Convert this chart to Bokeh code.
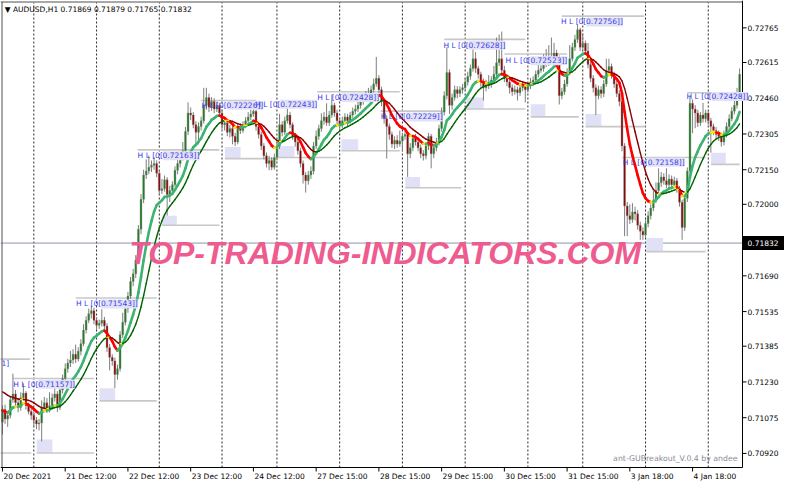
import numpy as np
from bokeh.plotting import figure
from bokeh.models import Range1d, Label, ColumnDataSource
from bokeh.core.properties import value
from bokeh.embed import file_html
from bokeh.resources import INLINE

# ---------------- data (prices in points, 1 point = 0.00001) ----------------
open_first = 71055
close_pts = [
    71111, 71069, 71085, 71153, 71178, 71140, 71119, 71161, 71182, 71127, 71102, 71085,
    71064, 71048, 71052, 71119, 71140, 71111, 71127, 71161, 71178, 71119, 71195, 71245,
    71287, 71312, 71325, 71350, 71329, 71363, 71396, 71455, 71497, 71526, 71539, 71497,
    71476, 71484, 71497, 71472, 71379, 71337, 71321, 71262, 71287, 71434, 71489, 71547,
    71602, 71665, 71699, 71757, 71892, 72022, 72127, 72144, 72161, 72169, 72177, 72135,
    72060, 72068, 72106, 72043, 72060, 72085, 72148, 72177, 72203, 72232, 72316, 72396,
    72387, 72345, 72312, 72337, 72362, 72429, 72463, 72421, 72446, 72413, 72429, 72396,
    72345, 72354, 72312, 72329, 72295, 72270, 72337, 72320, 72345, 72362, 72379, 72392,
    72404, 72337, 72303, 72253, 72211, 72177, 72190, 72161, 72203, 72253, 72345, 72312,
    72362, 72387, 72345, 72295, 72270, 72232, 72177, 72127, 72102, 72127, 72144, 72253,
    72295, 72329, 72362, 72379, 72354, 72387, 72429, 72396, 72362, 72345, 72362, 72379,
    72362, 72387, 72404, 72413, 72429, 72446, 72463, 72471, 72480, 72497, 72522, 72547,
    72497, 72446, 72371, 72337, 72303, 72261, 72278, 72261, 72274, 72295, 72303, 72219,
    72245, 72287, 72270, 72245, 72219, 72211, 72253, 72295, 72219, 72245, 72270, 72329,
    72400, 72471, 72572, 72429, 72463, 72497, 72480, 72497, 72505, 72530, 72555, 72589,
    72631, 72589, 72564, 72530, 72505, 72513, 72522, 72539, 72564, 72614, 72631, 72581,
    72547, 72530, 72505, 72488, 72497, 72484, 72505, 72513, 72497, 72513, 72530, 72539,
    72564, 72581, 72589, 72606, 72623, 72614, 72639, 72656, 72631, 72471, 72488, 72522,
    72572, 72631, 72681, 72715, 72757, 72681, 72698, 72665, 72606, 72547, 72505, 72471,
    72497, 72480, 72522, 72581, 72597, 72564, 72522, 72480, 72446, 72253, 71993, 71951,
    71934, 71967, 71959, 71909, 71883, 71867, 71917, 71951, 71984, 72018, 72060, 72093,
    72119, 72102, 72085, 72110, 72085, 72102, 72068, 72009, 71900, 72026, 72144, 72438,
    72413, 72396, 72354, 72387, 72371, 72396, 72362, 72337, 72320, 72303, 72295, 72270,
    72303, 72337, 72371, 72404, 72429, 72463, 72564,
]
high_pts = [
    71128, 71132, 71102, 71170, 71266, 71195, 71160, 71185, 71224, 71190, 71140, 71118,
    71100, 71078, 71070, 71150, 71165, 71160, 71185, 71180, 71205, 71190, 71210, 71262,
    71310, 71330, 71365, 71372, 71392, 71380, 71415, 71480, 71515, 71548, 71560, 71552,
    71510, 71500, 71545, 71512, 71485, 71395, 71350, 71335, 71305, 71450, 71530, 71565,
    71620, 71685, 71720, 71780, 71910, 72045, 72150, 72195, 72211, 72190, 72205, 72190,
    72148, 72110, 72125, 72118, 72080, 72100, 72165, 72195, 72220, 72270, 72335, 72442,
    72420, 72400, 72360, 72355, 72380, 72505, 72505, 72480, 72465, 72460, 72445, 72440,
    72410, 72375, 72370, 72345, 72340, 72310, 72350, 72352, 72360, 72378, 72400, 72410,
    72421, 72412, 72350, 72315, 72265, 72225, 72210, 72205, 72220, 72270, 72392, 72360,
    72380, 72421, 72400, 72355, 72310, 72285, 72245, 72190, 72140, 72145, 72165, 72270,
    72320, 72345, 72395, 72400, 72438, 72405, 72476, 72440, 72410, 72375, 72380, 72395,
    72392, 72400, 72420, 72432, 72445, 72460, 72480, 72490, 72505, 72515, 72545, 72639,
    72560, 72510, 72455, 72385, 72350, 72315, 72295, 72300, 72320, 72310, 72320, 72315,
    72265, 72300, 72305, 72285, 72260, 72235, 72270, 72310, 72305, 72262, 72288, 72345,
    72420, 72490, 72681, 72585, 72480, 72515, 72512, 72512, 72522, 72548, 72575, 72606,
    72673, 72660, 72600, 72575, 72545, 72540, 72560, 72555, 72600, 72723, 72736, 72749,
    72600, 72560, 72545, 72520, 72515, 72510, 72520, 72530, 72525, 72530, 72548, 72555,
    72580, 72631, 72610, 72650, 72673, 72690, 72723, 72700, 72670, 72645, 72505, 72540,
    72590, 72690, 72700, 72735, 72778, 72765, 72740, 72710, 72700, 72620, 72560, 72520,
    72515, 72512, 72540, 72631, 72631, 72610, 72575, 72535, 72495, 72460, 72265, 72010,
    72000, 72005, 71990, 71975, 71925, 71900, 71935, 71970, 72000, 72060, 72095, 72156,
    72140, 72135, 72156, 72130, 72125, 72120, 72115, 72080, 72020, 72040, 72160, 72471,
    72455, 72430, 72410, 72400, 72440, 72410, 72405, 72375, 72350, 72335, 72320, 72310,
    72320, 72355, 72390, 72421, 72450, 72505, 72589,
]
low_pts = [
    71002, 71048, 71035, 71072, 71140, 71120, 71098, 71105, 71150, 71110, 71090, 71066,
    71040, 71025, 71020, 70972, 71100, 71095, 71098, 71115, 71145, 71100, 71108, 71180,
    71230, 71270, 71295, 71308, 71312, 71318, 71345, 71385, 71440, 71485, 71505, 71480,
    71455, 71460, 71470, 71455, 71360, 71280, 71300, 71203, 71240, 71275, 71420, 71475,
    71530, 71590, 71645, 71680, 71740, 71870, 72005, 72110, 72130, 72140, 72150, 72118,
    72040, 72045, 72055, 71951, 72010, 72040, 72075, 72130, 72160, 72190, 72220, 72300,
    72365, 72330, 72253, 72260, 72320, 72350, 72410, 72400, 72405, 72395, 72400, 72380,
    72325, 72320, 72295, 72290, 72260, 72253, 72260, 72305, 72310, 72330, 72350, 72365,
    72380, 72320, 72285, 72235, 72195, 72160, 72148, 72148, 72150, 72190, 72240, 72295,
    72300, 72350, 72330, 72280, 72250, 72215, 72160, 72090, 72051, 72085, 72110, 72130,
    72240, 72280, 72315, 72345, 72340, 72340, 72375, 72380, 72345, 72320, 72330, 72350,
    72340, 72350, 72375, 72390, 72400, 72415, 72432, 72450, 72460, 72470, 72485, 72510,
    72480, 72425, 72350, 72198, 72280, 72245, 72240, 72245, 72250, 72230, 72280, 72119,
    72200, 72230, 72255, 72230, 72200, 72190, 72195, 72235, 72156, 72200, 72230, 72255,
    72315, 72385, 72455, 72392, 72410, 72450, 72460, 72465, 72480, 72495, 72515, 72540,
    72575, 72570, 72545, 72510, 72450, 72490, 72500, 72505, 72525, 72550, 72600, 72565,
    72530, 72512, 72480, 72470, 72475, 72450, 72470, 72490, 72442, 72485, 72500, 72515,
    72525, 72550, 72570, 72575, 72595, 72600, 72605, 72625, 72610, 72433, 72455, 72475,
    72510, 72560, 72620, 72665, 72700, 72665, 72670, 72648, 72590, 72530, 72485, 72387,
    72455, 72460, 72465, 72510, 72570, 72545, 72505, 72465, 72425, 72230, 71862, 71862,
    71915, 71920, 71930, 71890, 71846, 71846, 71855, 71900, 71935, 71970, 72005, 72045,
    72075, 72085, 72070, 72070, 72068, 72070, 72050, 71990, 71846, 71885, 72010, 72130,
    72308, 72330, 72335, 72340, 72355, 72355, 72345, 72224, 72300, 72285, 72275, 72250,
    72255, 72290, 72325, 72360, 72390, 72415, 72450,
]
fast_seed = 71106   # fast MA value at the first bar
slow_seed = 71190   # slow MA value at the first bar

date_ticks = [0, 24, 48, 72, 96, 120, 144, 168, 192, 216, 240, 264]
date_labels = ["20 Dec 2021", "21 Dec 12:00", "22 Dec 12:00", "23 Dec 12:00", "24 Dec 12:00",
               "27 Dec 15:00", "28 Dec 15:00", "29 Dec 15:00", "30 Dec 15:00", "31 Dec 15:00",
               "3 Jan 18:00", "4 Jan 18:00"]
day_starts = [12, 36, 60, 84, 105, 129, 153, 177, 201, 222, 246, 270]
price_ticks = [0.72765, 0.72615, 0.72460, 0.72305, 0.72150, 0.72000, 0.71845,
               0.71690, 0.71535, 0.71385, 0.71230, 0.71075, 0.70920]
last_price = 0.71832
header_text = "\u25bc AUDUSD,H1  0.71869 0.71879 0.71765 0.71832"
footer_text = "ant-GUBreakout_V.0.4 by andee"
watermark = "TOP-TRADING-INDICATORS.COM"

# breakout boxes (bar index range, price range in points)
box_i0 = [13.1, 37.1, 61.1, 85.1, 105.4, 129.7, 154.1, 177.4, 202.1, 223.1, 246.3, 271.1]
box_i1 = [19.1, 43.1, 66.7, 91.1, 111.7, 136.1, 159.7, 184.1, 207.7, 229.1, 252.7, 276.7]
box_top = [70980, 71203, 71951, 72249, 72253, 72282, 72119, 72463, 72434, 72392, 71854, 72224]
box_bot = [70922, 71148, 71909, 72198, 72203, 72232, 72072, 72413, 72379, 72337, 71795, 72173]

# range lines
line_i0 = [-1, 4, 28, 51.7, 76, 120.4, 144.7, 169, 192, 214, 237, 262,
           -1, 13.1, 37.1, 61.1, 85.1, 105.4, 129.7, 154.1, 177.4, 202.1, 223.1, 246.3, 271.1]
line_i1 = [10.5, 35, 59, 83, 97, 152, 169, 200, 216, 245.5, 269, 282,
           11, 35, 59, 83, 105.4, 128, 152, 175.5, 200, 220.5, 246, 269, 282]
line_p = [71329, 71245, 71594, 72236, 72450, 72488, 72404, 72715, 72652, 72816, 72203, 72484,
          70922, 70922, 71148, 71909, 72198, 72203, 72232, 72072, 72413, 72379, 72337, 71795, 72173]

# "H L [0[...]]" labels
hl_i = [4.1, 28.1, 51.7, 76.1, 96.7, 120.4, 144.7, 168.7, 192.4, 213.7, 237.3, 261.7]
hl_p = [71220, 71568, 72211, 72429, 72434, 72463, 72379, 72690, 72623, 72791, 72182, 72467]
hl_val = ["0.71157", "0.71543", "0.72163", "0.72226", "0.72243", "0.72428",
          "0.72229", "0.72628", "0.72523", "0.72756", "0.72158", "0.72428"]

# ---------------- derived ----------------
close = np.array(close_pts) / 1e5
high = np.array(high_pts) / 1e5
low = np.array(low_pts) / 1e5
opn = np.concatenate([[open_first / 1e5], close[:-1]])
idx = np.arange(len(close))
bull = close >= opn

def ema(vals, period, seed):
    a = 2.0 / (period + 1)
    out, v = [], seed
    for x in vals:
        v = v + a * (x - v)
        out.append(v)
    return np.array(out)

fast = ema(close, 11, fast_seed / 1e5)
slow = ema(ema(close, 9, slow_seed / 1e5), 9, slow_seed / 1e5)

def seg_source(vals, up, down, flat, thr):
    d = np.diff(vals)
    cols = [up if v > thr else (down if v < -thr else flat) for v in d]
    return ColumnDataSource(dict(x0=idx[:-1], x1=idx[1:], y0=vals[:-1], y1=vals[1:], c=cols))

# ---------------- layout: chart area + axis strips inside one frame ----------------
W, H = 784, 484
X0, X1 = -0.75, 283.1          # bar range of the chart area
Y0, Y1 = 0.70859, 0.72875      # price range of the chart area
CW, CH = 742, 465              # chart area size in px
px_x = (X1 - X0) / CW
px_y = (Y1 - Y0) / CH
XR = X0 + W * px_x
YB = Y0 - (H - CH - 2) * px_y
YT = Y1 + 2 * px_y

FONT = "DejaVu Sans"
FS = "7.5px"

p = figure(width=W, height=H, output_backend="svg", toolbar_location=None, tools="",
           x_range=Range1d(X0, XR), y_range=Range1d(YB, YT),
           x_axis_type=None, y_axis_type=None, min_border=0,
           min_border_left=0, min_border_right=0, min_border_top=0, min_border_bottom=0,
           background_fill_color="white", border_fill_color="white",
           outline_line_color=None)
p.grid.visible = False

# day separators (dotted)
p.segment(x0=day_starts, x1=day_starts, y0=[Y0] * len(day_starts), y1=[Y1] * len(day_starts),
          line_color="#2A2A2A", line_dash="2 2", line_width=1)
# current price line
p.segment(x0=[X0], x1=[X1], y0=[last_price], y1=[last_price], line_color="#8C96AA", line_width=1)

# breakout boxes and range lines
p.quad(left=box_i0, right=box_i1, top=[v / 1e5 for v in box_top],
       bottom=[v / 1e5 for v in box_bot], fill_color="#E0E0F7", line_color=None)
p.segment(x0=line_i0, x1=line_i1, y0=[v / 1e5 for v in line_p], y1=[v / 1e5 for v in line_p],
          line_color="#C8C8C8", line_width=1.6)

# candles
src = ColumnDataSource(dict(x=idx, top=np.maximum(opn, close), bottom=np.minimum(opn, close),
                            high=high, low=low,
                            color=["#1E7B1E" if b else "#8B0000" for b in bull]))
p.segment("x", "high", "x", "low", source=src, line_color="#7E7E7E", line_width=1)
p.vbar(x="x", width=0.72, top="top", bottom="bottom", source=src,
       fill_color="color", line_color="#8A8A8A", line_width=0.4)

# moving averages
p.segment("x0", "y0", "x1", "y1", source=seg_source(fast, "#3CB371", "#FF0000", "#FFE600", 0.000018),
          line_color="c", line_width=2.6, line_cap="round")
p.segment("x0", "y0", "x1", "y1", source=seg_source(slow, "#006400", "#8B0000", "#FFE600", 0.000012),
          line_color="c", line_width=1.4, line_cap="round")

# frame borders and axis lines
p.segment(x0=[X0, X0 + 1.5 * px_x], x1=[X1, X0 + 1.5 * px_x],
          y0=[Y1 + 0.5 * px_y, Y0], y1=[Y1 + 0.5 * px_y, Y1 + 0.5 * px_y],
          line_color="#505050", line_width=1)
p.segment(x0=[X1, X0], x1=[X1, X1], y0=[Y0, Y0], y1=[YT, Y0], line_color="black", line_width=1)

# price axis (right)
p.ray(x=[X1] * len(price_ticks), y=price_ticks, length=4, length_units="screen", angle=0,
      line_color="black", line_width=1)
p.text(x=[X1] * len(price_ticks), y=price_ticks, text=["%.5f" % t for t in price_ticks],
       x_offset=5, text_baseline="middle", text_align="left", text_font=value(FONT),
       text_font_size=value(FS), text_color="black")

# time axis (bottom)
p.ray(x=date_ticks, y=[Y0] * len(date_ticks), length=4, length_units="screen",
      angle=-np.pi / 2, line_color="black", line_width=1)
p.text(x=date_ticks, y=[Y0] * len(date_ticks), text=date_labels, x_offset=1, y_offset=4,
       text_baseline="top", text_align="left", text_font=value(FONT),
       text_font_size=value(FS), text_color="black")

# last price tag on the price axis
p.rect(x=[XR], y=[last_price], width=2 * (W - CW), height=14, width_units="screen",
       height_units="screen", fill_color="black", line_color=None)
p.text(x=[X1], y=[last_price], text=["0.71832"], x_offset=5, text_baseline="middle",
       text_align="left", text_font=value(FONT), text_font_size=value(FS), text_color="white")

# watermark
p.add_layout(Label(x=146.4, y=0.71790, text=watermark, text_align="center",
                   text_baseline="alphabetic", text_font="Liberation Sans",
                   text_font_style="bold italic", text_font_size="32px",
                   text_color="#EE5C8F"))

# H L labels
for xi, yp, v in zip(hl_i, hl_p, hl_val):
    p.add_layout(Label(x=xi, y=yp / 1e5, text="H L [0[", text_font=FONT, text_font_size=FS,
                       text_color="#3C3CF0", text_baseline="middle", text_align="left"))
    p.add_layout(Label(x=xi, y=yp / 1e5, x_offset=25, text=v + "]]", text_font=FONT,
                       text_font_size=FS, text_color="#3C3CF0", text_baseline="middle",
                       text_align="left", background_fill_color="#E2E2F4",
                       background_fill_alpha=1.0))
p.add_layout(Label(x=-0.4, y=0.71308, text="1]", text_font=FONT, text_font_size=FS,
                   text_color="#3C3CF0", text_baseline="middle", text_align="left"))

# header / footer
p.add_layout(Label(x=0.9, y=0.72846, text=header_text, text_font=FONT, text_font_size=FS,
                   text_color="black", text_baseline="middle", text_align="left"))
p.add_layout(Label(x=233.6, y=0.70896, text=footer_text, text_font=FONT, text_font_size="7.8px",
                   text_color="#8A8A99", text_baseline="middle", text_align="left"))

open("out.html", "w").write(file_html(p, INLINE))
